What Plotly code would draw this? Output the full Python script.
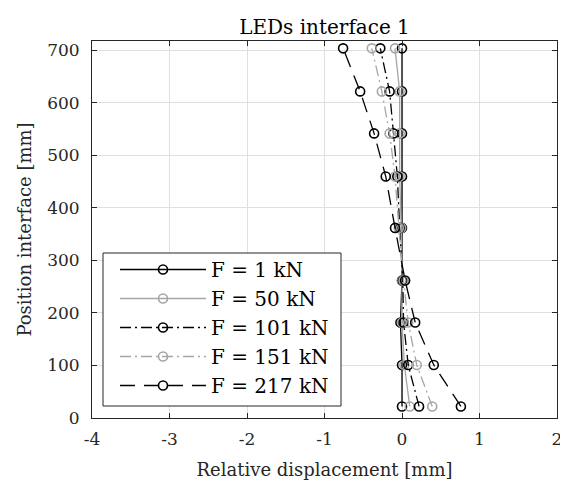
import plotly.graph_objects as go

# Data
position = [22, 101, 182, 262, 362, 460, 542, 622, 704]  # Position interface [mm]
disp_F1 = [0.0, 0.0, -0.02, 0.0, 0.0, 0.0, 0.0, 0.0, 0.0]
disp_F50 = [0.10, 0.03, 0.0, 0.0, -0.01, -0.03, -0.03, -0.03, -0.09]
disp_F101 = [0.22, 0.08, 0.02, 0.01, -0.03, -0.06, -0.11, -0.16, -0.28]
disp_F151 = [0.39, 0.19, 0.08, 0.02, -0.04, -0.09, -0.16, -0.26, -0.39]
disp_F217 = [0.76, 0.41, 0.17, 0.04, -0.09, -0.21, -0.36, -0.54, -0.76]
series_names = ["F = 1 kN", "F = 50 kN", "F = 101 kN", "F = 151 kN", "F = 217 kN"]
x_ticks = [-4, -3, -2, -1, 0, 1, 2]
y_ticks = [0, 100, 200, 300, 400, 500, 600, 700]

BLACK = "#000000"
GRAY = "#a6a6a6"
FONT = "DejaVu Serif"

styles = [
    (BLACK, "solid"),
    (GRAY, "solid"),
    (BLACK, "11px,4px,2px,4px"),
    (GRAY, "11px,4px,2px,4px"),
    (BLACK, "15px,9px"),
]
series = [disp_F1, disp_F50, disp_F101, disp_F151, disp_F217]

fig = go.Figure()
for i, (vals, name, (col, dash)) in enumerate(zip(series, series_names, styles)):
    fig.add_trace(go.Scatter(
        x=vals, y=position, name=name, mode="lines+markers",
        line=dict(color=col, width=1.3, dash=dash),
        marker=dict(symbol="circle-open", size=9, color=col, line=dict(width=1.6, color=col)),
        legendgroup=f"g{i}",
    ))

axis_common = dict(
    showline=True, linecolor="#262626", linewidth=1, mirror="ticks",
    ticks="inside", ticklen=5, tickcolor="#262626", tickwidth=1,
    showgrid=True, gridcolor="#e0e0e0", gridwidth=1, zeroline=False,
    tickfont=dict(family=FONT, size=17, color="#262626"),
    automargin=False, ticklabeloverflow="allow",
)

# The page body has an 8px margin, so the figure is sized/positioned to compensate
W, H = 560, 478
PLOT_W, PLOT_H = 465, 377

# Legend frame (white box with dark border), drawn as a decoration shape
legend_box = dict(type="rect", xref="paper", yref="paper",
                  x0=11 / PLOT_W, x1=249 / PLOT_W, y0=12 / PLOT_H, y1=165 / PLOT_H,
                  fillcolor="white", line=dict(color="#262626", width=1), layer="above")

fig.update_layout(
    width=W, height=H,
    margin=dict(l=84, r=11, t=33, b=68),
    paper_bgcolor="white", plot_bgcolor="white",
    title=dict(text="LEDs interface 1", x=(324.5 - 8) / W, xanchor="center",
               y=1 - (27 - 8) / H, yanchor="middle",
               font=dict(family=FONT, size=20, color="black")),
    xaxis=dict(range=[-4, 2], tickvals=x_ticks, ticktext=[str(t) for t in x_ticks],
               ticklabelstandoff=6,
               title=dict(text="Relative displacement [mm]", font=dict(family=FONT, size=18, color="#262626"), standoff=14),
               **axis_common),
    yaxis=dict(range=[0, 718], tickvals=y_ticks, ticklabelstandoff=8,
               title=dict(text="Position interface [mm]", font=dict(family=FONT, size=18, color="#262626"), standoff=10),
               **axis_common),
    shapes=[legend_box],
    legend=dict(x=23 / PLOT_W, y=13 / PLOT_H, xanchor="left", yanchor="bottom",
                bgcolor="rgba(0,0,0,0)", borderwidth=0,
                font=dict(family=FONT, size=20, color="black"),
                itemwidth=86, traceorder="grouped", tracegroupgap=0),
    showlegend=True,
)

fig.write_html("out.html")
